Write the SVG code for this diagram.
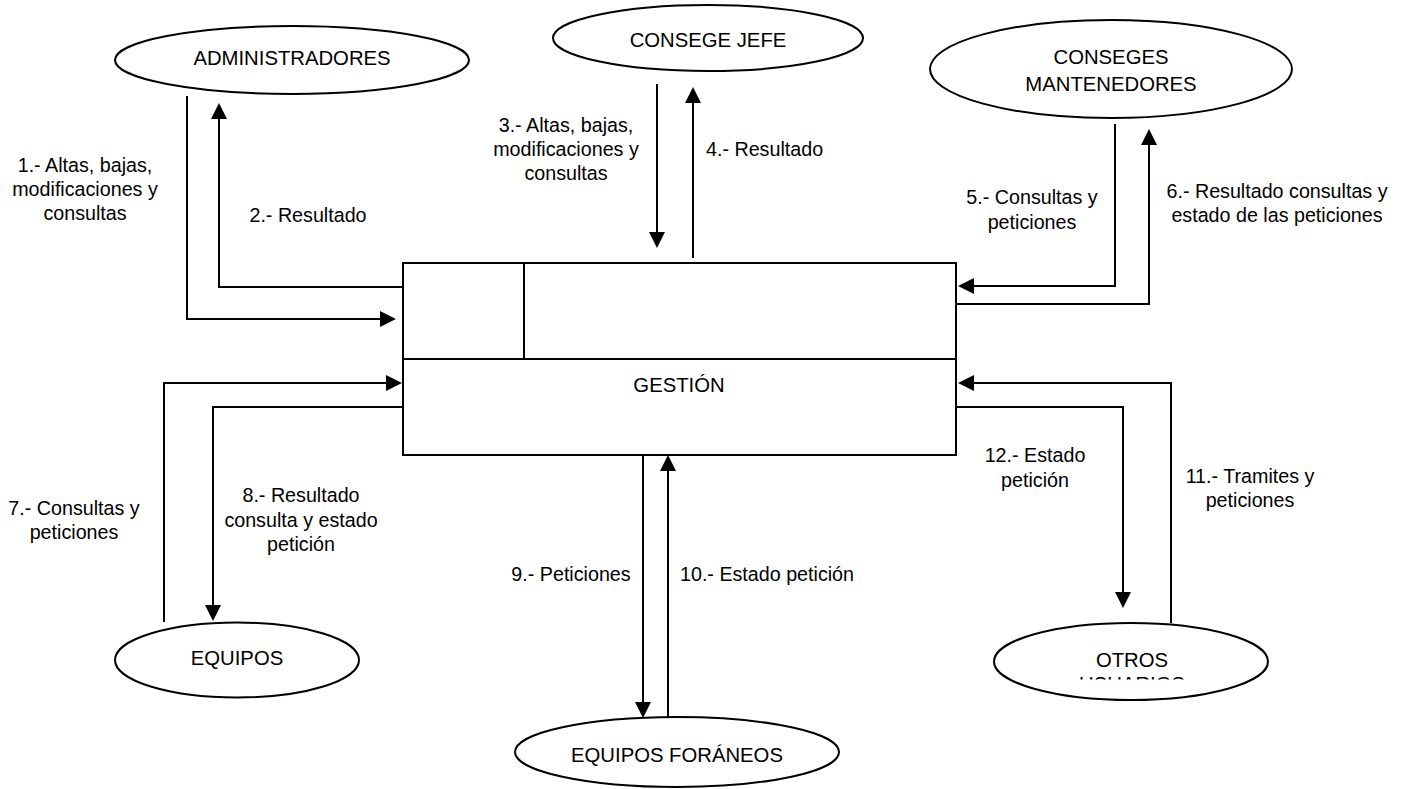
<svg xmlns="http://www.w3.org/2000/svg" width="1405" height="789" viewBox="0 0 1405 789">
  <style>
    .shape { fill: #ffffff; stroke: #000000; stroke-width: 2; }
    .node-label { font-family: "Liberation Sans", Arial, sans-serif; font-size: 20.3px; fill: #000000; text-anchor: middle; }
    .flow { fill: none; stroke: #000000; stroke-width: 2; marker-end: url(#arrow); }
    .flow-label { font-family: "Liberation Sans", Arial, sans-serif; font-size: 19.7px; fill: #000000; }
    .mid { text-anchor: middle; }
  </style>
  <defs>
    <marker id="arrow" markerUnits="userSpaceOnUse" markerWidth="16" markerHeight="16" refX="13" refY="8" orient="auto">
      <path d="M0,0 L16,8 L0,16 z" fill="#000000"/>
    </marker>
    <clipPath id="clip-otros">
      <rect x="990" y="620" width="285" height="59.5"/>
    </clipPath>
  </defs>
  <rect width="1405" height="789" fill="#ffffff"/>

  <!-- connectors -->
  <g id="connectors">
    <path class="flow" d="M187,96 V319 H393"/>
    <path class="flow" d="M403,287 H219 V106"/>
    <path class="flow" d="M657,84 V245"/>
    <path class="flow" d="M693,258 V90"/>
    <path class="flow" d="M1115,124 V286 H961"/>
    <path class="flow" d="M957,304 H1149 V132"/>
    <path class="flow" d="M164,622 V383 H399"/>
    <path class="flow" d="M403,407 H213 V618"/>
    <path class="flow" d="M643,455 V715"/>
    <path class="flow" d="M668,718 V458"/>
    <path class="flow" d="M1171,623 V383 H961"/>
    <path class="flow" d="M957,407 H1123 V605"/>

    <text class="flow-label mid" x="85"><tspan x="85" y="172">1.- Altas, bajas,</tspan><tspan x="85" y="196">modificaciones y</tspan><tspan x="85" y="220">consultas</tspan></text>
    <text class="flow-label mid" x="308" y="222">2.- Resultado</text>
    <text class="flow-label mid" x="566"><tspan x="566" y="132">3.- Altas, bajas,</tspan><tspan x="566" y="156">modificaciones y</tspan><tspan x="566" y="180">consultas</tspan></text>
    <text class="flow-label" x="706" y="156">4.- Resultado</text>
    <text class="flow-label mid" x="1032"><tspan x="1032" y="204">5.- Consultas y</tspan><tspan x="1032" y="229">peticiones</tspan></text>
    <text class="flow-label mid" x="1277"><tspan x="1277" y="198">6.- Resultado consultas y</tspan><tspan x="1277" y="222">estado de las peticiones</tspan></text>
    <text class="flow-label mid" x="74"><tspan x="74" y="515">7.- Consultas y</tspan><tspan x="74" y="539">peticiones</tspan></text>
    <text class="flow-label mid" x="301"><tspan x="301" y="502">8.- Resultado</tspan><tspan x="301" y="527">consulta y estado</tspan><tspan x="301" y="551">petición</tspan></text>
    <text class="flow-label mid" x="571" y="581">9.- Peticiones</text>
    <text class="flow-label" x="680" y="581">10.- Estado petición</text>
    <text class="flow-label mid" x="1250"><tspan x="1250" y="483">11.- Tramites y</tspan><tspan x="1250" y="507">peticiones</tspan></text>
    <text class="flow-label mid" x="1035"><tspan x="1035" y="462">12.- Estado</tspan><tspan x="1035" y="487">petición</tspan></text>
  </g>

  <!-- central process -->
  <g id="gestion">
    <rect class="shape" x="403" y="263" width="553" height="192"/>
    <line x1="403" y1="359" x2="956" y2="359" stroke="#000000" stroke-width="2"/>
    <line x1="524" y1="263" x2="524" y2="359" stroke="#000000" stroke-width="2"/>
    <text class="node-label" x="679" y="392">GESTIÓN</text>
  </g>

  <!-- external entities -->
  <g id="administradores">
    <ellipse class="shape" cx="292" cy="60" rx="177" ry="34"/>
    <text class="node-label" x="292" y="65">ADMINISTRADORES</text>
  </g>
  <g id="consege-jefe">
    <ellipse class="shape" cx="708" cy="38" rx="155" ry="33"/>
    <text class="node-label" x="708" y="47">CONSEGE JEFE</text>
  </g>
  <g id="conseges-mantenedores">
    <ellipse class="shape" cx="1111" cy="69" rx="181" ry="49"/>
    <text class="node-label"><tspan x="1111" y="64">CONSEGES</tspan><tspan x="1111" y="91">MANTENEDORES</tspan></text>
  </g>
  <g id="equipos">
    <ellipse class="shape" cx="237" cy="660" rx="122" ry="37.5"/>
    <text class="node-label" x="237" y="665">EQUIPOS</text>
  </g>
  <g id="equipos-foraneos">
    <ellipse class="shape" cx="677" cy="752" rx="162" ry="35"/>
    <text class="node-label" x="677" y="762">EQUIPOS FORÁNEOS</text>
  </g>
  <g id="otros-usuarios">
    <ellipse class="shape" cx="1131" cy="661.5" rx="137" ry="38.5"/>
    <text class="node-label" clip-path="url(#clip-otros)"><tspan x="1132" y="667">OTROS</tspan><tspan x="1132" y="691">USUARIOS</tspan></text>
  </g>
</svg>
